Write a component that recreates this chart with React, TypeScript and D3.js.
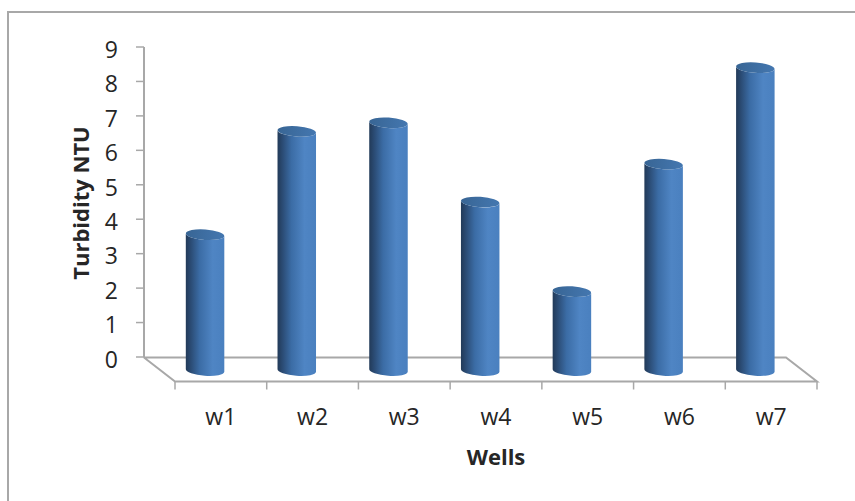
import React from "react";
import * as d3 from "d3";

const wells = ["w1", "w2", "w3", "w4", "w5", "w6", "w7"];
const turbidity = [3.55, 6.55, 6.8, 4.5, 1.9, 5.6, 8.4];
const yTicks = [0, 1, 2, 3, 4, 5, 6, 7, 8, 9];

const WIDTH = 855;
const HEIGHT = 501;
const FONT = "'Open Sans', sans-serif";
const AXIS = "#a8a8a8";
const TEXT = "#262626";

// Back wall and floor of the pseudo-3D plot box
const wallX = 144;
const floorBack = 357.5;
const floorFront = 381.5;
const depth = 31;
const floorWidth = 642;
const barWidth = 38.5;
const rimRy = 5.2;
const rimTilt = 4;
const barBaseY = 370.5;

const y = d3.scaleLinear().domain([0, 9]).range([357, 47]);
const barX = d3
  .scaleBand<string>()
  .domain(wells)
  .range([wallX + depth / 2 - 0.3, wallX + floorWidth + depth / 2 - 0.3]);
const frontX = d3
  .scaleBand<string>()
  .domain(wells)
  .range([wallX + depth, wallX + floorWidth + depth]);

const floorPath = d3.line()([
  [wallX, floorBack],
  [wallX + floorWidth, floorBack],
  [wallX + floorWidth + depth, floorFront],
  [wallX + depth, floorFront],
  [wallX, floorBack],
]) as string;

// Column body: straight sides closed by a tilted elliptical arc at each end
function cylinderPath(cx: number, top: number) {
  const rx = barWidth / 2;
  const rise = rx * Math.sin((rimTilt * Math.PI) / 180);
  return [
    `M${cx - rx},${top - rise}`,
    `L${cx - rx},${barBaseY - rise}`,
    `A${rx},${rimRy} ${rimTilt} 0 0 ${cx + rx},${barBaseY + rise}`,
    `L${cx + rx},${top + rise}`,
    `A${rx},${rimRy} ${rimTilt} 0 1 ${cx - rx},${top - rise}`,
    "Z",
  ].join(" ");
}

export default function App() {
  const frontTicks = [...wells.map((w) => frontX(w) as number), wallX + floorWidth + depth];
  return (
    <svg
      width={WIDTH}
      height={HEIGHT}
      style={{ position: "absolute", left: 0, top: 0, background: "#fff" }}
    >
      <defs>
        <linearGradient id="barSide" x1="0" x2="1" y1="0" y2="0">
          <stop offset="0" stopColor="#223a58" />
          <stop offset="0.12" stopColor="#2a4a72" />
          <stop offset="0.36" stopColor="#3b6ca5" />
          <stop offset="0.7" stopColor="#4f85c4" />
          <stop offset="1" stopColor="#4a80bf" />
        </linearGradient>
        <linearGradient id="barTop" x1="0" x2="1" y1="0" y2="0">
          <stop offset="0" stopColor="#386594" />
          <stop offset="1" stopColor="#4477b0" />
        </linearGradient>
      </defs>

      {/* Outer chart frame */}
      <path d={`M8,${HEIGHT} V12 H${WIDTH}`} fill="none" stroke={AXIS} strokeWidth={2} />

      {/* Value axis */}
      <line x1={wallX} x2={wallX} y1={y(9)} y2={floorBack} stroke={AXIS} strokeWidth={2} />
      {yTicks.map((t) => (
        <g key={t}>
          <line x1={wallX - 8} x2={wallX} y1={y(t)} y2={y(t)} stroke={AXIS} strokeWidth={1.5} />
          <text
            x={118}
            y={y(t) + 2.5}
            dy="0.36em"
            textAnchor="end"
            fontFamily={FONT}
            fontSize={23}
            fill={TEXT}
          >
            {t}
          </text>
        </g>
      ))}

      {/* Floor and category ticks */}
      <path d={floorPath} fill="none" stroke={AXIS} strokeWidth={2} />
      {frontTicks.map((x) => (
        <line key={x} x1={x} x2={x} y1={floorFront} y2={floorFront + 8} stroke={AXIS} strokeWidth={1.5} />
      ))}

      {/* Cylinder columns */}
      {wells.map((w, i) => {
        const cx = (barX(w) as number) + barX.bandwidth() / 2;
        const top = y(turbidity[i]);
        return (
          <g key={w}>
            <path d={cylinderPath(cx, top)} fill="url(#barSide)" />
            <ellipse
              cx={cx}
              cy={top}
              rx={barWidth / 2}
              ry={rimRy}
              transform={`rotate(${rimTilt} ${cx} ${top})`}
              fill="url(#barTop)"
            />
          </g>
        );
      })}

      {/* Category labels */}
      {wells.map((w) => (
        <text
          key={w}
          x={(frontX(w) as number) + frontX.bandwidth() / 2}
          y={425}
          textAnchor="middle"
          fontFamily={FONT}
          fontSize={23}
          fill={TEXT}
        >
          {w}
        </text>
      ))}

      {/* Axis titles */}
      <text
        x={496}
        y={465}
        textAnchor="middle"
        fontFamily={FONT}
        fontSize={22}
        fontWeight={700}
        fill={TEXT}
      >
        Wells
      </text>
      <text
        transform="translate(89,203) rotate(-90)"
        textAnchor="middle"
        fontFamily={FONT}
        fontSize={22}
        fontWeight={700}
        fill={TEXT}
      >
        Turbidity NTU
      </text>
    </svg>
  );
}
